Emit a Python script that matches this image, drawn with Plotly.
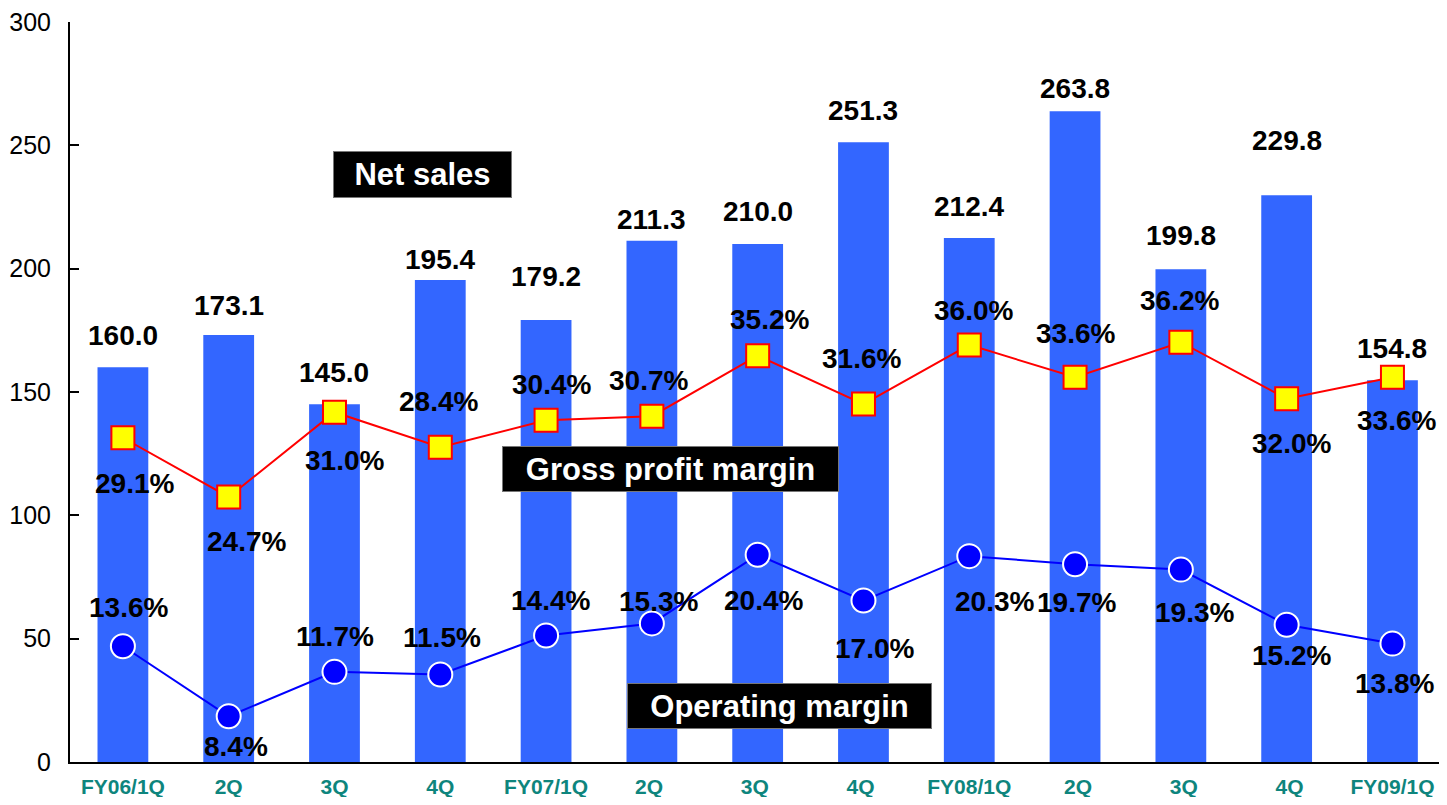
import plotly.graph_objects as go

quarters = ["FY06/1Q", "2Q", "3Q", "4Q", "FY07/1Q", "2Q ", "3Q ", "4Q ",
            "FY08/1Q", " 2Q", " 3Q", " 4Q", "FY09/1Q"]
net_sales = [160.0, 173.1, 145.0, 195.4, 179.2, 211.3, 210.0, 251.3,
             212.4, 263.8, 199.8, 229.8, 154.8]
gross_margin = [29.1, 24.7, 31.0, 28.4, 30.4, 30.7, 35.2, 31.6,
                36.0, 33.6, 36.2, 32.0, 33.6]
operating_margin = [13.6, 8.4, 11.7, 11.5, 14.4, 15.3, 20.4, 17.0,
                    20.3, 19.7, 19.3, 15.2, 13.8]
y_ticks = [0, 50, 100, 150, 200, 250, 300]

# label placement (pixel offsets from each point)
sales_dy = [32, 30, 32, 21, 43, 21, 33, 32, 32, 23, 34, 55, 32]
gross_dx = [12, 18, 10, -2, 5, -3, 12, -2, 4, 0, -1, 5, 4]
gross_dy = [-46, -45, -48, 46, 36, 36, 36, 46, 34, 44, 42, -45, -43]
oper_dx = [6, 7, 1, 2, 4, 7, 6, 11, 25, 1, 14, 5, 2]
oper_dy = [39, -30, 35, 37, 35, 22, -46, -48, -45, -38, -43, -31, -40]

FONT = "Arial, Liberation Sans, sans-serif"
LBL = dict(family=FONT, size=28, color="black")

fig = go.Figure()
fig.add_trace(go.Bar(x=quarters, y=net_sales, marker_color="#3366FF",
                     marker_line_width=0, showlegend=False, yaxis="y"))
fig.add_trace(go.Scatter(x=quarters, y=gross_margin, mode="lines+markers",
                         line=dict(color="#FF0000", width=2),
                         marker=dict(symbol="square", size=23, color="#FFFF00",
                                     line=dict(color="#FF0000", width=2)),
                         showlegend=False, yaxis="y2"))
fig.add_trace(go.Scatter(x=quarters, y=operating_margin, mode="lines+markers",
                         line=dict(color="#0000FF", width=2),
                         marker=dict(symbol="circle", size=24, color="#0000FF",
                                     line=dict(color="white", width=2)),
                         showlegend=False, yaxis="y2"))

annotations = []
for q, v, dy in zip(quarters, net_sales, sales_dy):
    annotations.append(dict(x=q, y=v, xref="x", yref="y", text=f"<b>{v:.1f}</b>",
                            showarrow=False, yshift=dy, font=LBL))
for q, v, dx, dy in zip(quarters, gross_margin, gross_dx, gross_dy):
    annotations.append(dict(x=q, y=v, xref="x", yref="y2", text=f"<b>{v:.1f}%</b>",
                            showarrow=False, xshift=dx, yshift=dy, font=LBL))
for q, v, dx, dy in zip(quarters, operating_margin, oper_dx, oper_dy):
    annotations.append(dict(x=q, y=v, xref="x", yref="y2", text=f"<b>{v:.1f}%</b>",
                            showarrow=False, xshift=dx, yshift=dy, font=LBL))

# black caption boxes
for txt, px, py, w, h in [("Net sales", 0.2575, 0.794, 177, 45),
                          ("Gross profit margin", 0.4386, 0.3957, 335, 44),
                          ("Operating margin", 0.5183, 0.0754, 303, 44)]:
    annotations.append(dict(x=px, y=py, xref="paper", yref="paper", text=f"<b>{txt}</b>",
                            xanchor="center", yanchor="middle",
                            showarrow=False, bgcolor="black", bordercolor="#777777",
                            borderwidth=1, borderpad=0, width=w, height=h,
                            font=dict(family=FONT, size=31, color="white")))

# page body adds an 8px margin, so the figure is sized to fit inside the window
fig.update_layout(
    width=1431, height=789,
    margin=dict(l=62, r=0, t=14, b=35),
    plot_bgcolor="white", paper_bgcolor="white",
    bargap=0.52,
    annotations=annotations,
    xaxis=dict(range=[-0.5, len(quarters) - 0.56], showline=True, linecolor="black",
               linewidth=2, ticks="", showgrid=False, automargin=False,
               tickfont=dict(family=FONT, size=21, color="#0E857D"),
               tickprefix="<b>", ticksuffix="</b>", ticklabelstandoff=5),
    yaxis=dict(range=[0, 300], tickvals=y_ticks, showline=True, linecolor="black",
               linewidth=2, ticks="inside", ticklen=9, tickwidth=2, tickcolor="black",
               showgrid=False, zeroline=False, ticklabelstandoff=12, automargin=False,
               ticklabeloverflow="allow",
               tickfont=dict(family=FONT, size=25, color="black")),
    yaxis2=dict(range=[5, 60], overlaying="y", visible=False, showgrid=False),
)

fig.write_html("out.html")
